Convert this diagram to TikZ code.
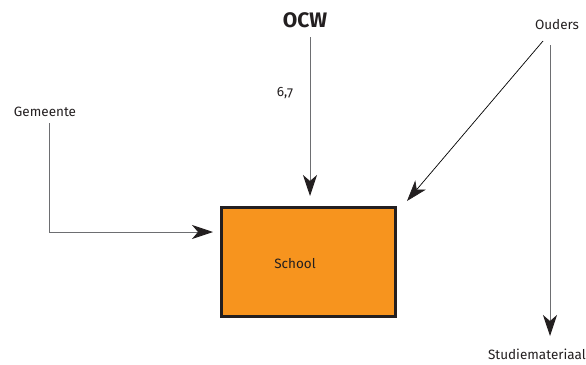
\documentclass[tikz,border=0pt]{standalone}
\usepackage{fontspec}
\setmainfont{Fira Sans}[Numbers=OldStyle]
\usetikzlibrary{arrows.meta}
\definecolor{boxorange}{HTML}{F7941E}
\definecolor{boxline}{HTML}{231F20}
\definecolor{flowgray}{HTML}{6D6E71}
\tikzset{
  lbl/.style={inner sep=0pt, text=boxline, font=\fontsize{13.5}{16}\selectfont},
  tipstyle/.style={-{Stealth[length=21pt,width=14pt,inset=6pt,color=boxline]}},
  flow/.style={draw=flowgray, line width=0.9pt, tipstyle},
  flowdark/.style={draw=black, line width=0.7pt, tipstyle},
}
\begin{document}
\begin{tikzpicture}[x=1pt,y=-1pt]
\useasboundingbox (0,0) rectangle (586,364);
\node[draw=boxline, line width=3.3pt, fill=boxorange, minimum width=173.7pt, minimum height=108.7pt, inner sep=0pt] (school) at (308.5,262) {};
\node[lbl] (schooltxt) at (295,264) {School};
\node[lbl, font=\fontsize{21}{24}\selectfont\bfseries] (ocw) at (305,20) {OCW};
\node[lbl] (num) at (285,93) {6,7};
\node[lbl] (gem) at (45,112) {Gemeente};
\node[lbl] (ouders) at (557,25) {Ouders};
\node[lbl, anchor=east] (studie) at (586,354) {Studiemateriaal};
\coordinate (ocwtop) at (310,37);
\coordinate (ocwtip) at (310,196);
\coordinate (gemtop) at (49,123);
\coordinate (gemtip) at (213,232);
\coordinate (oudstart) at (543,41);
\coordinate (oudtip) at (407,201);
\coordinate (studtop) at (550,45);
\coordinate (studtip) at (550,336);
\draw[flow] (ocwtop) -- (ocwtip);
\draw[flow] (gemtop) |- (gemtip);
\draw[flowdark] (oudstart) -- (oudtip);
\draw[flow] (studtop) -- (studtip);
\end{tikzpicture}
\end{document}
